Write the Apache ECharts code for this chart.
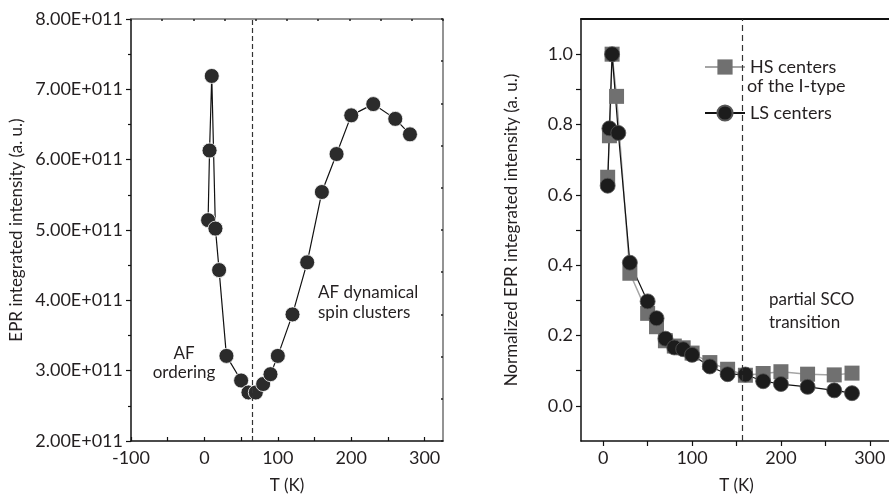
<!DOCTYPE html>
<html>
<head>
<meta charset="utf-8">
<script src="https://cdn.jsdelivr.net/npm/echarts@6/dist/echarts.min.js"></script>
<style>
html,body{margin:0;padding:0;background:#fff;}
#chart{width:889px;height:497px;}
</style>
</head>
<body>
<div id="chart"></div>
<script>
// ---- Left panel data ----
const tLeft = [5, 7, 10, 15, 20, 30, 50, 60, 70, 80, 90, 100, 120, 140, 160, 180, 200, 230, 260, 280];
const eprLeft = [5.14e11, 6.13e11, 7.19e11, 5.02e11, 4.43e11, 3.21e11, 2.86e11, 2.69e11, 2.69e11, 2.81e11, 2.95e11, 3.21e11, 3.80e11, 4.54e11, 5.54e11, 6.08e11, 6.63e11, 6.79e11, 6.58e11, 6.36e11];
const leftTransitionT = 65;

// ---- Right panel data ----
const tHS = [5, 7, 10, 15, 30, 50, 60, 70, 80, 90, 100, 120, 140, 160, 180, 200, 230, 260, 280];
const hsValues = [0.65, 0.768, 1.0, 0.88, 0.377, 0.263, 0.225, 0.185, 0.17, 0.165, 0.15, 0.123, 0.104, 0.087, 0.092, 0.097, 0.090, 0.088, 0.093];
const tLS = [5, 7, 10, 17, 30, 50, 60, 70, 80, 90, 100, 120, 140, 160, 180, 200, 230, 260, 280];
const lsValues = [0.626, 0.789, 1.0, 0.776, 0.407, 0.297, 0.249, 0.191, 0.166, 0.161, 0.145, 0.112, 0.090, 0.089, 0.070, 0.062, 0.054, 0.044, 0.036];
const rightTransitionT = 157;

// ---- Tick labels ----
const xLabelsLeft = [-100, 0, 100, 200, 300];
const xTicksLeft = [-100, -50, 0, 50, 100, 150, 200, 250, 300];
const xLabelsRight = [0, 100, 200, 300];
const xTicksRight = [0, 50, 100, 150, 200, 250, 300];
const yLabelsRight = [0.0, 0.2, 0.4, 0.6, 0.8, 1.0];
const yTicksRight = [0.0, 0.1, 0.2, 0.3, 0.4, 0.5, 0.6, 0.7, 0.8, 0.9, 1.0];

const FONT = 'Lato';
const TXT = '#231f20';

const zip = (a, b) => a.map((v, i) => [v, b[i]]);

const chart = echarts.init(document.getElementById('chart'), null, {renderer: 'canvas'});

const option = {
  backgroundColor: '#fff',
  animation: false,
  textStyle: {fontFamily: FONT, color: TXT},
  grid: [
    {left: 131, top: 19, width: 312, height: 422, outerBoundsMode: 'none', containLabel: false},
    {left: 581, top: 19, width: 311, height: 422, outerBoundsMode: 'none', containLabel: false}
  ],
  xAxis: [
    {
      gridIndex: 0, type: 'value', position: 'bottom', min: -100, max: 325,
      name: 'T (K)', nameLocation: 'middle', nameGap: 36,
      nameTextStyle: {fontFamily: FONT, fontSize: 17, color: TXT},
      axisLine: {onZero: false, lineStyle: {color: '#111', width: 1.5}},
      axisTick: {inside: true, length: 4, customValues: xTicksLeft, lineStyle: {color: '#111', width: 1.2}},
      axisLabel: {customValues: xLabelsLeft, fontFamily: FONT, fontSize: 18, color: TXT, margin: 8},
      splitLine: {show: false}
    },
    {
      gridIndex: 0, type: 'value', position: 'top', min: 0, max: 10, interval: 1,
      axisLine: {onZero: false, lineStyle: {color: '#6f6f6f', width: 1.5}},
      axisTick: {inside: true, length: 2, lineStyle: {color: '#222', width: 1.5}},
      axisLabel: {show: false},
      splitLine: {show: false}
    },
    {
      gridIndex: 1, type: 'value', position: 'bottom', min: -25, max: 325,
      name: 'T (K)', nameLocation: 'middle', nameGap: 36,
      nameTextStyle: {fontFamily: FONT, fontSize: 17, color: TXT},
      axisLine: {onZero: false, lineStyle: {color: '#111', width: 1.5}},
      axisTick: {inside: false, length: 5, customValues: xTicksRight, lineStyle: {color: '#111', width: 1.2}},
      axisLabel: {customValues: xLabelsRight, fontFamily: FONT, fontSize: 18, color: TXT, margin: 8},
      splitLine: {show: false}
    },
    {
      gridIndex: 1, type: 'value', position: 'top', min: 0, max: 10, interval: 1,
      axisLine: {onZero: false, lineStyle: {color: '#111', width: 2}},
      axisTick: {show: false},
      axisLabel: {show: false},
      splitLine: {show: false}
    }
  ],
  yAxis: [
    {
      gridIndex: 0, type: 'value', position: 'left', min: 2e11, max: 8e11, interval: 1e11,
      name: 'EPR integrated intensity (a. u.)', nameLocation: 'middle', nameGap: 106, nameRotate: 90,
      nameTextStyle: {fontFamily: FONT, fontSize: 17, color: TXT},
      axisLine: {onZero: false, lineStyle: {color: '#111', width: 1.5}},
      axisTick: {inside: false, length: 5, lineStyle: {color: '#111', width: 1.2}},
      minorTick: {show: true, splitNumber: 2, length: 3, lineStyle: {color: '#111', width: 1.2}},
      axisLabel: {
        fontFamily: FONT, fontSize: 18, color: TXT, margin: 8,
        formatter: v => (v / 1e11).toFixed(2) + 'E+011'
      },
      splitLine: {show: false}
    },
    {
      gridIndex: 0, type: 'value', position: 'right', min: 0, max: 10, interval: 1,
      axisLine: {onZero: false, lineStyle: {color: '#6f6f6f', width: 1.5}},
      axisTick: {inside: true, length: 2, lineStyle: {color: '#222', width: 1.5}},
      axisLabel: {show: false},
      splitLine: {show: false}
    },
    {
      gridIndex: 1, type: 'value', position: 'left', min: -0.1, max: 1.1,
      name: 'Normalized EPR integrated intensity (a. u.)', nameLocation: 'middle', nameGap: 61, nameRotate: 90,
      nameTextStyle: {fontFamily: FONT, fontSize: 17, color: TXT},
      axisLine: {onZero: false, lineStyle: {color: '#111', width: 1.5}},
      axisTick: {inside: false, length: 5, customValues: yTicksRight, lineStyle: {color: '#111', width: 1.2}},
      axisLabel: {
        customValues: yLabelsRight, fontFamily: FONT, fontSize: 18, color: TXT, margin: 8,
        formatter: v => Number(v).toFixed(1)
      },
      splitLine: {show: false}
    }
  ],
  legend: {
    left: 699, top: 53, orient: 'vertical', itemWidth: 40, itemHeight: 19, itemGap: 28,
    textStyle: {fontFamily: FONT, fontSize: 18, color: TXT},
    data: ['HS centers', 'LS centers']
  },
  series: [
    {
      name: 'EPR', type: 'line', xAxisIndex: 0, yAxisIndex: 0,
      data: zip(tLeft, eprLeft),
      symbol: 'circle', symbolSize: 15,
      itemStyle: {color: '#2b2b2b', borderColor: '#fff', borderWidth: 0.8},
      lineStyle: {color: '#111', width: 1.2},
      markLine: {
        silent: true, symbol: 'none', label: {show: false},
        lineStyle: {color: '#333', width: 1.2, type: [5, 3]},
        data: [{xAxis: leftTransitionT}]
      }
    },
    {
      name: 'HS centers', type: 'line', xAxisIndex: 2, yAxisIndex: 2,
      data: zip(tHS, hsValues),
      symbol: 'rect', symbolSize: 15,
      itemStyle: {color: '#707070'},
      lineStyle: {color: '#a5a5a5', width: 1.5},
      markLine: {
        silent: true, symbol: 'none', label: {show: false},
        lineStyle: {color: '#333', width: 1.2, type: [6, 4]},
        data: [{xAxis: rightTransitionT}]
      }
    },
    {
      name: 'LS centers', type: 'line', xAxisIndex: 2, yAxisIndex: 2,
      data: zip(tLS, lsValues),
      symbol: 'circle', symbolSize: 15,
      itemStyle: {color: '#1c1c1c', borderColor: '#555', borderWidth: 0.8},
      lineStyle: {color: '#111', width: 1.2}
    }
  ],
  graphic: [
    {type: 'text', x: 318, y: 283, style: {text: 'AF dynamical\nspin clusters', font: '17px ' + FONT, fill: TXT, lineHeight: 20}},
    {type: 'text', x: 184, y: 344, style: {text: 'AF\nordering', font: '17px ' + FONT, fill: TXT, lineHeight: 19, align: 'center', textAlign: 'center'}},
    {type: 'text', x: 769, y: 288, style: {text: 'partial SCO\ntransition', font: '17px ' + FONT, fill: TXT, lineHeight: 23}},
    {type: 'text', x: 747, y: 77, style: {text: 'of the I-type', font: '18px ' + FONT, fill: TXT}}
  ]
};
chart.setOption(option);
</script>
</body>
</html>
